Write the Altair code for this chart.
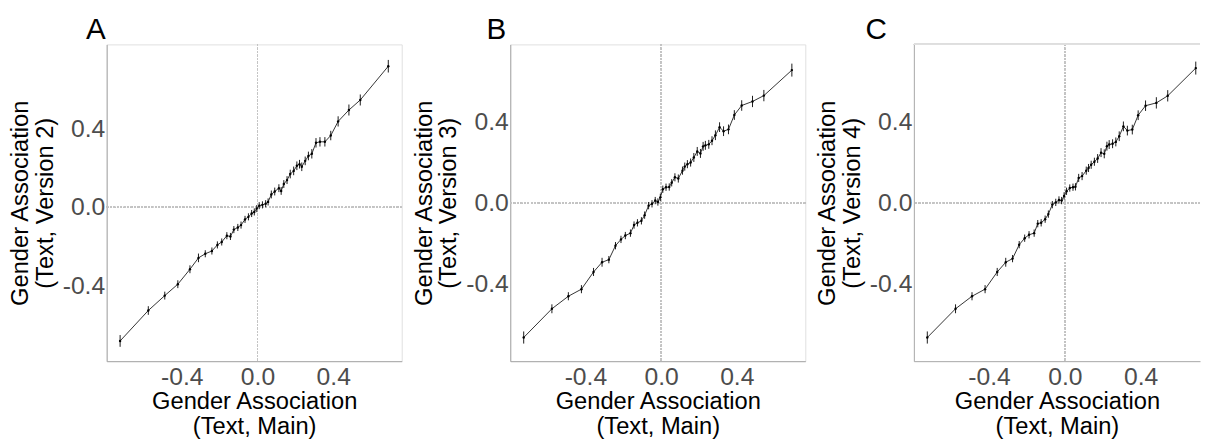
import altair as alt
import pandas as pd

# Shared x values: Gender Association (Text, Main)
x_main = [-0.726, -0.577, -0.490, -0.421, -0.357, -0.312, -0.276, -0.241, -0.212, -0.189,
          -0.162, -0.143, -0.125, -0.104, -0.087, -0.066, -0.048, -0.031, -0.017, -0.004,
          0.009, 0.026, 0.043, 0.056, 0.073, 0.091, 0.113, 0.125, 0.139, 0.156,
          0.173, 0.191, 0.208, 0.222, 0.234, 0.252, 0.269, 0.287, 0.309, 0.330,
          0.356, 0.387, 0.426, 0.483, 0.543, 0.691]

# Panel A: Version 2
y_v2 = [-0.682, -0.527, -0.451, -0.393, -0.317, -0.259, -0.238, -0.224, -0.193, -0.178,
        -0.146, -0.150, -0.115, -0.104, -0.092, -0.063, -0.050, -0.033, -0.025, -0.008,
        0.007, 0.011, 0.017, 0.026, 0.064, 0.079, 0.096, 0.082, 0.117, 0.137,
        0.168, 0.184, 0.210, 0.218, 0.205, 0.235, 0.260, 0.271, 0.327, 0.332,
        0.332, 0.364, 0.436, 0.494, 0.545, 0.717]

# Panel B: Version 3
y_v3 = [-0.665, -0.523, -0.461, -0.426, -0.341, -0.293, -0.280, -0.211, -0.180, -0.161,
        -0.149, -0.109, -0.098, -0.088, -0.060, -0.013, -0.004, 0.012, 0.005, 0.028,
        0.068, 0.078, 0.079, 0.100, 0.127, 0.121, 0.160, 0.180, 0.192, 0.200,
        0.225, 0.255, 0.245, 0.280, 0.285, 0.290, 0.308, 0.335, 0.375, 0.355,
        0.364, 0.435, 0.482, 0.502, 0.531, 0.657]

# Panel C: Version 4
y_v4 = [-0.665, -0.523, -0.461, -0.426, -0.341, -0.293, -0.275, -0.206, -0.174, -0.157,
        -0.149, -0.102, -0.098, -0.080, -0.055, -0.008, 0.003, 0.015, 0.012, 0.035,
        0.058, 0.074, 0.078, 0.080, 0.124, 0.133, 0.160, 0.173, 0.189, 0.204,
        0.220, 0.249, 0.243, 0.281, 0.289, 0.293, 0.302, 0.330, 0.379, 0.358,
        0.363, 0.434, 0.481, 0.495, 0.530, 0.667]

# Error bar half-widths
err = [0.030, 0.022, 0.020, 0.020, 0.020, 0.022, 0.018, 0.018, 0.018, 0.018,
       0.018, 0.018, 0.018, 0.018, 0.018, 0.018, 0.018, 0.018, 0.018, 0.018,
       0.018, 0.018, 0.018, 0.018, 0.020, 0.020, 0.020, 0.020, 0.020, 0.020,
       0.022, 0.022, 0.022, 0.022, 0.022, 0.022, 0.022, 0.024, 0.024, 0.024,
       0.024, 0.024, 0.026, 0.028, 0.028, 0.032]

tick_values = [-0.4, 0.0, 0.4]
x_title = ["Gender Association", "(Text, Main)"]

LABEL_EXPR = ("datum.value < 0 ? '-' + format(abs(datum.value), '.1f') "
              ": format(datum.value, '.1f')")


def panel(yvals, version, letter, ydom, xdom, width, letter_dx, frame=True):
    df = pd.DataFrame({
        "x": x_main,
        "y": yvals,
        "lo": [v - e for v, e in zip(yvals, err)],
        "hi": [v + e for v, e in zip(yvals, err)],
    })
    xs = alt.Scale(domain=xdom, nice=False, zero=False)
    ys = alt.Scale(domain=ydom, nice=False, zero=False)
    xaxis = alt.Axis(values=tick_values, labelExpr=LABEL_EXPR, title=x_title)
    yaxis = alt.Axis(values=tick_values, labelExpr=LABEL_EXPR,
                     title=["Gender Association", f"(Text, Version {version})"])
    base = alt.Chart(df)
    vline = base.mark_rule(color="#c4c4c4", strokeDash=[1.5, 2], strokeWidth=1).encode(
        x=alt.datum(0.0, scale=xs, axis=xaxis))
    hline = base.mark_rule(color="#c4c4c4", strokeDash=[1.5, 2], strokeWidth=1).encode(
        y=alt.datum(0.0, scale=ys, axis=yaxis))
    line = base.mark_line(color="#333333", strokeWidth=1).encode(
        x=alt.X("x:Q", scale=xs, axis=xaxis),
        y=alt.Y("y:Q", scale=ys, axis=yaxis))
    bars = base.mark_rule(color="#1a1a1a", strokeWidth=1).encode(
        x="x:Q", y="lo:Q", y2="hi:Q")
    pts = base.mark_circle(size=6, color="#000000", opacity=1).encode(x="x:Q", y="y:Q")
    layers = [vline, hline, line, bars, pts]
    if not frame:
        top = base.mark_rule(color="#e0e0e0", strokeWidth=1).encode(
            y=alt.datum(ydom[1]))
        layers.append(top)
    ch = alt.layer(*layers).properties(
        width=width, height=321,
        title=alt.TitleParams(letter, anchor="start", frame="group", dx=letter_dx,
                              fontSize=30, font="Liberation Sans", fontWeight="normal",
                              color="#000000", baseline="alphabetic", offset=-25),
    )
    if not frame:
        ch = ch.properties(view=alt.ViewBackground(strokeOpacity=0))
    return ch


xdom_full = [-0.797, 0.762]
pA = panel(y_v2, 2, "A", [-0.785, 0.828], xdom_full, 299, -21)
pB = panel(y_v3, 3, "B", [-0.782, 0.784], xdom_full, 299, -24)
pC = panel(y_v4, 4, "C", [-0.782, 0.784], [-0.797, -0.797 + 290 / 192], 290, -49, frame=False)

chart = alt.hconcat(pA, pB, pC, spacing=9).properties(
    padding={"left": 0, "top": 4, "right": 0, "bottom": 0}
).configure_view(
    stroke="#e0e0e0", strokeWidth=1
).configure_axis(
    grid=False, ticks=False, domainColor="#a6a6a6", domainWidth=1,
    labelFont="Liberation Sans", labelFontSize=25, labelColor="#4d4d4d", labelPadding=2,
    titleFont="Liberation Sans", titleFontSize=24, titleColor="#000000",
    titleFontWeight="normal", titleLineHeight=25,
).configure_axisY(
    titlePadding=5
).configure_axisX(
    titlePadding=0, labelPadding=4
)

chart.save("out.html", embed_options={"renderer": "svg", "actions": False})
